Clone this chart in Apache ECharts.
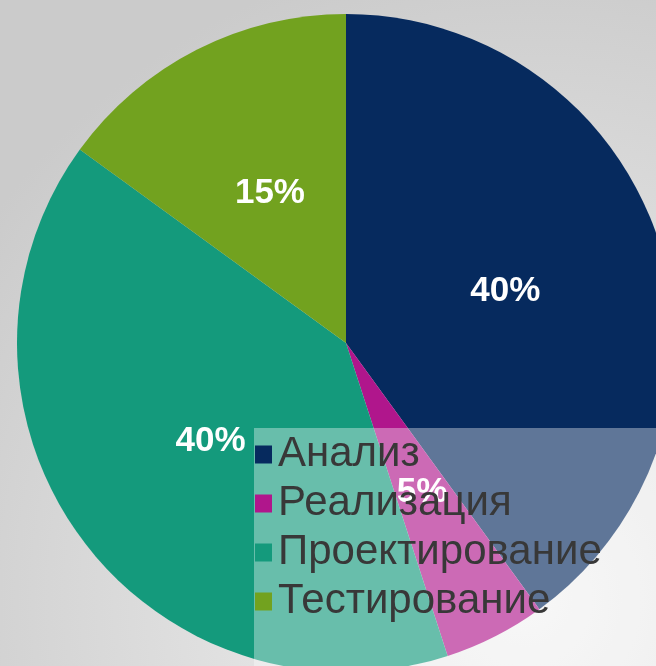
<!DOCTYPE html>
<html>
<head>
<meta charset="utf-8">
<script src="https://cdn.jsdelivr.net/npm/echarts@6/dist/echarts.min.js"></script>
<style>
  html, body { margin: 0; padding: 0; }
  #chart { width: 656px; height: 666px; }
</style>
</head>
<body>
<div id="chart"></div>
<script>
// данные диаграммы
var categories = ["Анализ", "Реализация", "Проектирование", "Тестирование"];
var values = [40, 5, 40, 15];
var colors = ["#062a5e", "#b0168c", "#149a7c", "#72a21f"];

var pieData = [];
for (var i = 0; i < categories.length; i++) {
  pieData.push({ name: categories[i], value: values[i] });
}

var myChart = echarts.init(document.getElementById("chart"));
var option = {
  animation: false,
  backgroundColor: {
    type: "radial",
    x: 0.8,
    y: 0.9,
    r: 1,
    colorStops: [
      { offset: 0, color: "#f3f3f3" },
      { offset: 1, color: "#cbcbcb" }
    ]
  },
  color: colors,
  legend: {
    orient: "vertical",
    left: 254,
    top: 428,
    width: 500,
    height: 500,
    padding: [2, 70, 50, 1],
    backgroundColor: "rgba(255,255,255,0.36)",
    icon: "rect",
    itemWidth: 17,
    itemHeight: 18,
    itemGap: 0,
    selectedMode: false,
    textStyle: {
      fontFamily: "Liberation Sans, Arial, sans-serif",
      fontSize: 42,
      lineHeight: 49,
      color: "#383838",
      padding: [0, 0, 0, 1]
    },
    data: categories
  },
  series: [
    {
      type: "pie",
      center: [346, 343],
      radius: [0, 329],
      startAngle: 90,
      clockwise: true,
      avoidLabelOverlap: false,
      silent: true,
      itemStyle: { borderWidth: 0 },
      label: {
        show: true,
        position: "inside",
        formatter: "{d}%",
        color: "#ffffff",
        fontFamily: "Liberation Sans, Arial, sans-serif",
        fontWeight: "bold",
        fontSize: 35
      },
      labelLine: { show: false },
      emphasis: { disabled: true },
      data: pieData
    }
  ]
};
myChart.setOption(option);
window.addEventListener("resize", () => {
  myChart.resize();
});
</script>
</body>
</html>
